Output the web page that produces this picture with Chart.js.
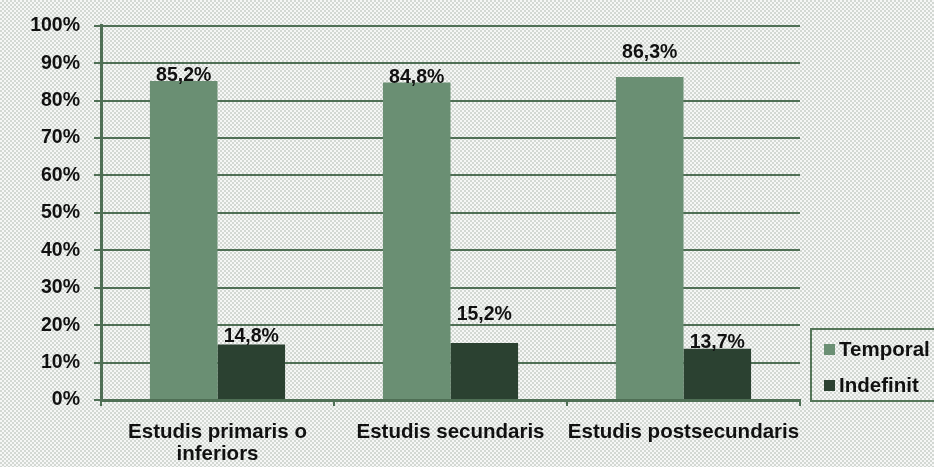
<!DOCTYPE html>
<html>
<head>
<meta charset="utf-8">
<script src="https://cdn.jsdelivr.net/npm/chart.js@4"></script>
<style>
  html, body { margin: 0; padding: 0; }
  body {
    width: 934px; height: 467px; overflow: hidden; position: relative;
    background: repeating-conic-gradient(#d3d8d3 0 25%, #f6f7f6 0 50%) 0 0/4px 4px;
    font-family: "Liberation Sans", Arial, sans-serif;
  }
  #wrap { position: absolute; left: 0; top: 0; width: 934px; height: 467px; }
  #legend {
    position: absolute; left: 810px; top: 328px; width: 140px; height: 74px;
    border: 2px solid #557659; box-sizing: border-box;
    font-weight: bold; font-size: 20.5px; color: #111;
  }
  #legend div { position: absolute; left: 12px; display: flex; align-items: center; line-height: 22px; }
  #legend span.box { width: 11px; height: 11px; margin-right: 4px; display: inline-block; }
</style>
</head>
<body>
<div id="wrap"><canvas id="chart" width="934" height="467"></canvas></div>
<div id="legend"></div>
<script>
const categories = [['Estudis primaris o', 'inferiors'], 'Estudis secundaris', 'Estudis postsecundaris'];
const seriesNames = ['Temporal', 'Indefinit'];
const temporal = [85.2, 84.8, 86.3];
const indefinit = [14.8, 15.2, 13.7];
const yTicks = [0, 10, 20, 30, 40, 50, 60, 70, 80, 90, 100];

const colors = ['#6a8f73', '#2b4131'];
const axisColor = '#4f6f55';
const fontFamily = '"Liberation Sans", Arial, sans-serif';
// label baseline shifts (px from bar top), as placed in the original
const labelShift = [[0, 0, -19], [-3, -23, -1]];

const fmt = v => v.toFixed(1).replace('.', ',') + '%';

const barLabels = {
  id: 'barLabels',
  afterDatasetsDraw(chart) {
    const ctx = chart.ctx;
    ctx.save();
    ctx.font = 'bold 19.5px ' + fontFamily;
    ctx.fillStyle = '#111';
    ctx.textAlign = 'center';
    ctx.textBaseline = 'alphabetic';
    chart.data.datasets.forEach((ds, i) => {
      chart.getDatasetMeta(i).data.forEach((bar, j) => {
        ctx.fillText(fmt(ds.data[j]), bar.x, bar.y + labelShift[i][j]);
      });
    });
    ctx.restore();
  }
};

const ctx = document.getElementById('chart').getContext('2d');
new Chart(ctx, {
  type: 'bar',
  data: {
    labels: categories,
    datasets: [
      { label: seriesNames[0], data: temporal, backgroundColor: colors[0] },
      { label: seriesNames[1], data: indefinit, backgroundColor: colors[1] }
    ]
  },
  options: {
    responsive: false,
    animation: false,
    layout: { padding: { top: 23, right: 134, bottom: 0, left: 0 } },
    plugins: { legend: { display: false }, tooltip: { enabled: false } },
    datasets: { bar: { barPercentage: 1, categoryPercentage: 0.58 } },
    scales: {
      x: {
        grid: { drawOnChartArea: false, drawTicks: true, tickLength: 6, color: axisColor, lineWidth: 2, offset: true },
        border: { color: axisColor, width: 3 },
        ticks: {
          color: '#111', padding: 16, maxRotation: 0, autoSkip: false,
          font: { family: fontFamily, size: 20.5, weight: 'bold', lineHeight: 1.05 }
        },
        afterFit: s => { s.height = 67; }
      },
      y: {
        min: 0, max: 100,
        afterBuildTicks: s => { s.ticks = yTicks.map(v => ({ value: v })); },
        grid: { color: axisColor, lineWidth: 2, tickLength: 7 },
        border: { color: axisColor, width: 3 },
        ticks: {
          color: '#111', padding: 14,
          font: { family: fontFamily, size: 19.5, weight: 'bold' },
          callback: v => v + '%'
        },
        afterFit: s => { s.width = 101; }
      }
    }
  },
  plugins: [barLabels]
});

const legend = document.getElementById('legend');
seriesNames.forEach((name, i) => {
  const item = document.createElement('div');
  item.style.top = (i === 0 ? 8 : 44) + 'px';
  item.innerHTML = '<span class="box" style="background:' + colors[i] + '"></span>' + name;
  legend.appendChild(item);
});
</script>
</body>
</html>
